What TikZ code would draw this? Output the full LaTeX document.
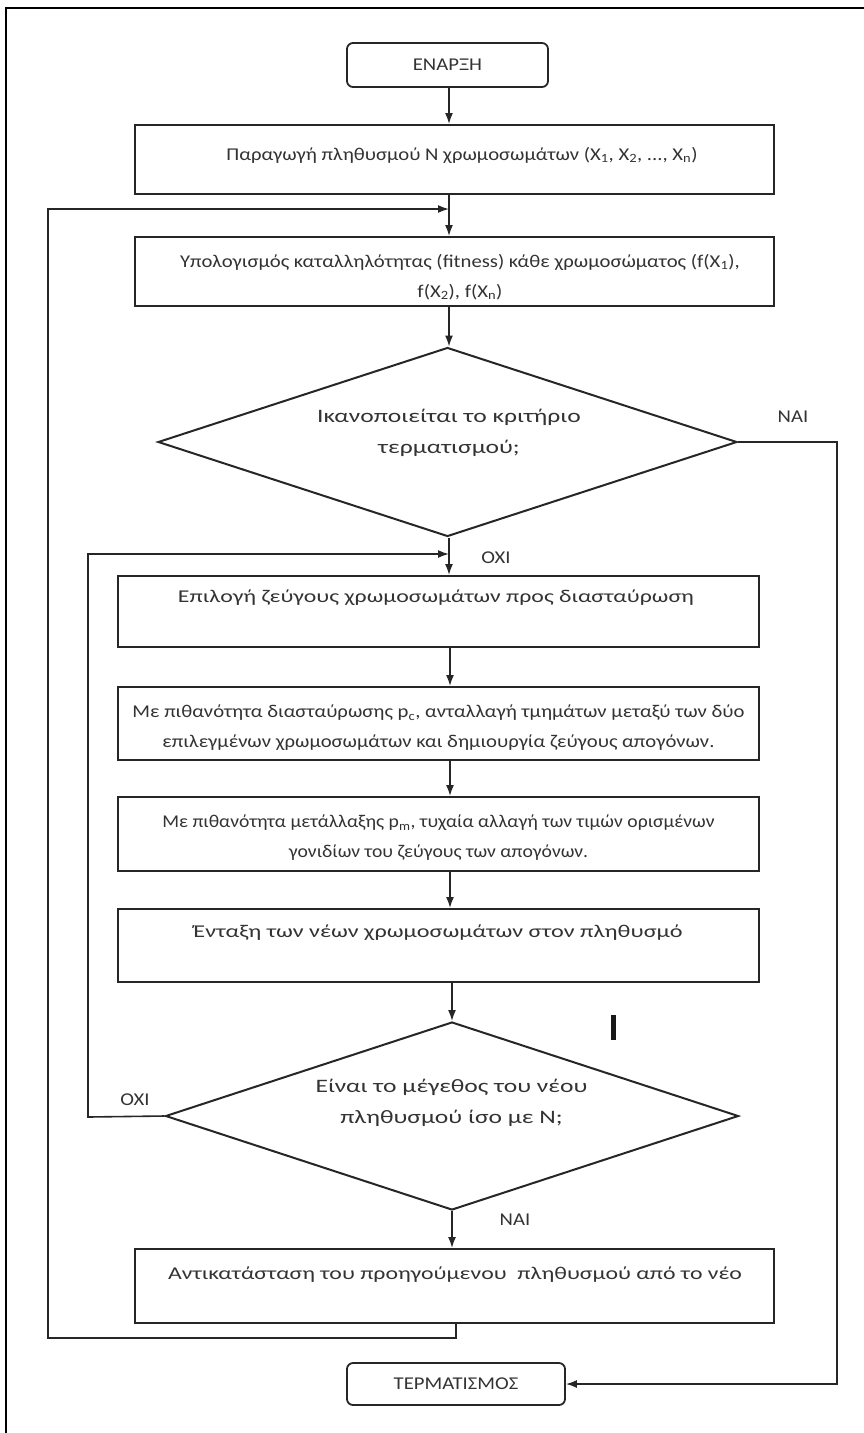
\documentclass[tikz,border=0pt]{standalone}
\usepackage{fontspec}
\usepackage{graphicx}
\setmainfont{Carlito}
\newfontfamily\bxfont[FakeStretch=1.15]{Carlito}
\usetikzlibrary{arrows.meta,shapes.geometric}
\newcommand\sx[2]{\scalebox{#1}[1]{#2}}
\begin{document}
\begin{tikzpicture}[x=1pt,y=-1pt,
  every node/.style={font=\bxfont\fontsize{18}{30}\selectfont, text=black!80},
  box/.style={draw=black!85, line width=2pt, rectangle, inner sep=0pt},
  term/.style={draw=black!85, line width=1.8pt, rounded corners=6pt, inner sep=0pt, align=center},
  dia/.style={draw=black!85, line width=2pt, diamond, inner sep=0pt},
  conn/.style={line width=1.6pt, draw=black!85, -{Latex[length=11pt,width=8pt]}},
  lbl/.style={inner sep=0pt, align=center},
  dlbl/.style={inner sep=0pt, align=center, font=\bxfont\fontsize{19}{31}\selectfont}
]
\useasboundingbox (0,0) rectangle (864,1433);
% outer frame
\draw[line width=2pt] (6,1433) -- (6,8) -- (864,8);

% shapes
\node[term, minimum width=201pt, minimum height=44pt] (start) at (447.5,65) {ΕΝΑΡΞΗ};
\node[box, minimum width=639pt, minimum height=69pt] (b1) at (454.5,159.5) {};
\node[box, minimum width=639pt, minimum height=69pt] (b2) at (454.5,271.5) {};
\node[dia, minimum width=579pt, minimum height=189pt] (d1) at (447.5,442) {};
\node[box, minimum width=641pt, minimum height=71pt] (b3) at (438.5,611.5) {};
\node[box, minimum width=641pt, minimum height=73pt] (b4) at (438.5,723.5) {};
\node[box, minimum width=641pt, minimum height=74pt] (b5) at (438.5,834) {};
\node[box, minimum width=641pt, minimum height=73pt] (b6) at (438.5,945.5) {};
\node[dia, minimum width=573pt, minimum height=188pt] (d2) at (452,1116) {};
\node[box, minimum width=639pt, minimum height=74pt] (b7) at (454.5,1286) {};
\node[term, minimum width=218pt, minimum height=42pt] (end) at (456,1384) {ΤΕΡΜΑΤΙΣΜΟΣ};

% texts
\node[lbl] (b1t) at (462,155)
  {Παραγωγή πληθυσμού Ν χρωμοσωμάτων (X\textsubscript{1}, X\textsubscript{2}, ..., X\textsubscript{n})};
\node[lbl] (b2t) at (460,277)
  {Υπολογισμός καταλληλότητας (fitness) κάθε χρωμοσώματος (f(X\textsubscript{1}),\\
   f(X\textsubscript{2}), f(X\textsubscript{n})};
\node[dlbl] (d1t) at (449,433)
  {\sx{1.17}{Ικανοποιείται το κριτήριο}\\\sx{1.17}{τερματισμού;}};
\node[lbl] (b3t) at (436,598) {\sx{1.15}{Επιλογή ζεύγους χρωμοσωμάτων προς διασταύρωση}};
\node[lbl] (b4t) at (438.5,728)
  {Με πιθανότητα διασταύρωσης p\textsubscript{c}, ανταλλαγή τμημάτων μεταξύ των δύο\\
   επιλεγμένων χρωμοσωμάτων και δημιουργία ζεύγους απογόνων.};
\node[lbl] (b5t) at (438.5,838)
  {\sx{0.95}{Με πιθανότητα μετάλλαξης p\textsubscript{m}, τυχαία αλλαγή των τιμών ορισμένων}\\
   \sx{0.95}{γονιδίων του ζεύγους των απογόνων.}};
\node[lbl] (b6t) at (438,933) {\sx{1.17}{Ένταξη των νέων χρωμοσωμάτων στον πληθυσμό}};
\node[dlbl] (d2t) at (451.5,1103)
  {\sx{1.17}{Είναι το μέγεθος του νέου}\\\sx{1.17}{πληθυσμού ίσο με Ν;}};
\node[lbl] (b7t) at (455,1275) {\sx{1.15}{Αντικατάσταση του προηγούμενου\ \ πληθυσμού από το νέο}};

% labels
\node[lbl] (yes1) at (793,417) {ΝΑΙ};
\node[lbl] (no1) at (496,558) {ΟΧΙ};
\node[lbl] (no2) at (135,1100) {ΟΧΙ};
\node[lbl] (yes2) at (515,1220) {ΝΑΙ};

% stray cursor mark
\fill[black!90] (611,1015) rectangle (615.5,1040);

% helper coordinates
\coordinate (c1) at (449,0);
\coordinate (c2) at (450,0);
\coordinate (j1) at (449,209);
\coordinate (j2) at (449,554);
\coordinate (l1) at (48,1338);
\coordinate (r7) at (456,1338);
\coordinate (l2) at (88,1117);
\coordinate (nr) at (837,1384);

% connectors
\draw[conn] (start.south -| c1) -- (b1.north -| c1);
\draw[conn] (b1.south -| c1) -- (b2.north -| c1);
\draw[conn] (b2.south -| c1) -- (d1.north -| c1);
\draw[conn] (d1.south -| c1) -- (b3.north -| c1);
\draw[conn] (b3.south -| c2) -- (b4.north -| c2);
\draw[conn] (b4.south -| c2) -- (b5.north -| c2);
\draw[conn] (b5.south -| c2) -- (b6.north -| c2);
\draw[conn] (b6.south -| d2.north) -- (d2.north);
\draw[conn] (d2.south) -- (b7.north -| d2.south);
\draw[conn] (d1.east) -| (nr) -- (end.east);
\draw[conn] (b7.south -| r7) -- (r7) -- (l1) -- (l1 |- j1) -- (j1);
\draw[conn] (d2.west) -- (l2) -- (l2 |- j2) -- (j2);
\end{tikzpicture}
\end{document}
